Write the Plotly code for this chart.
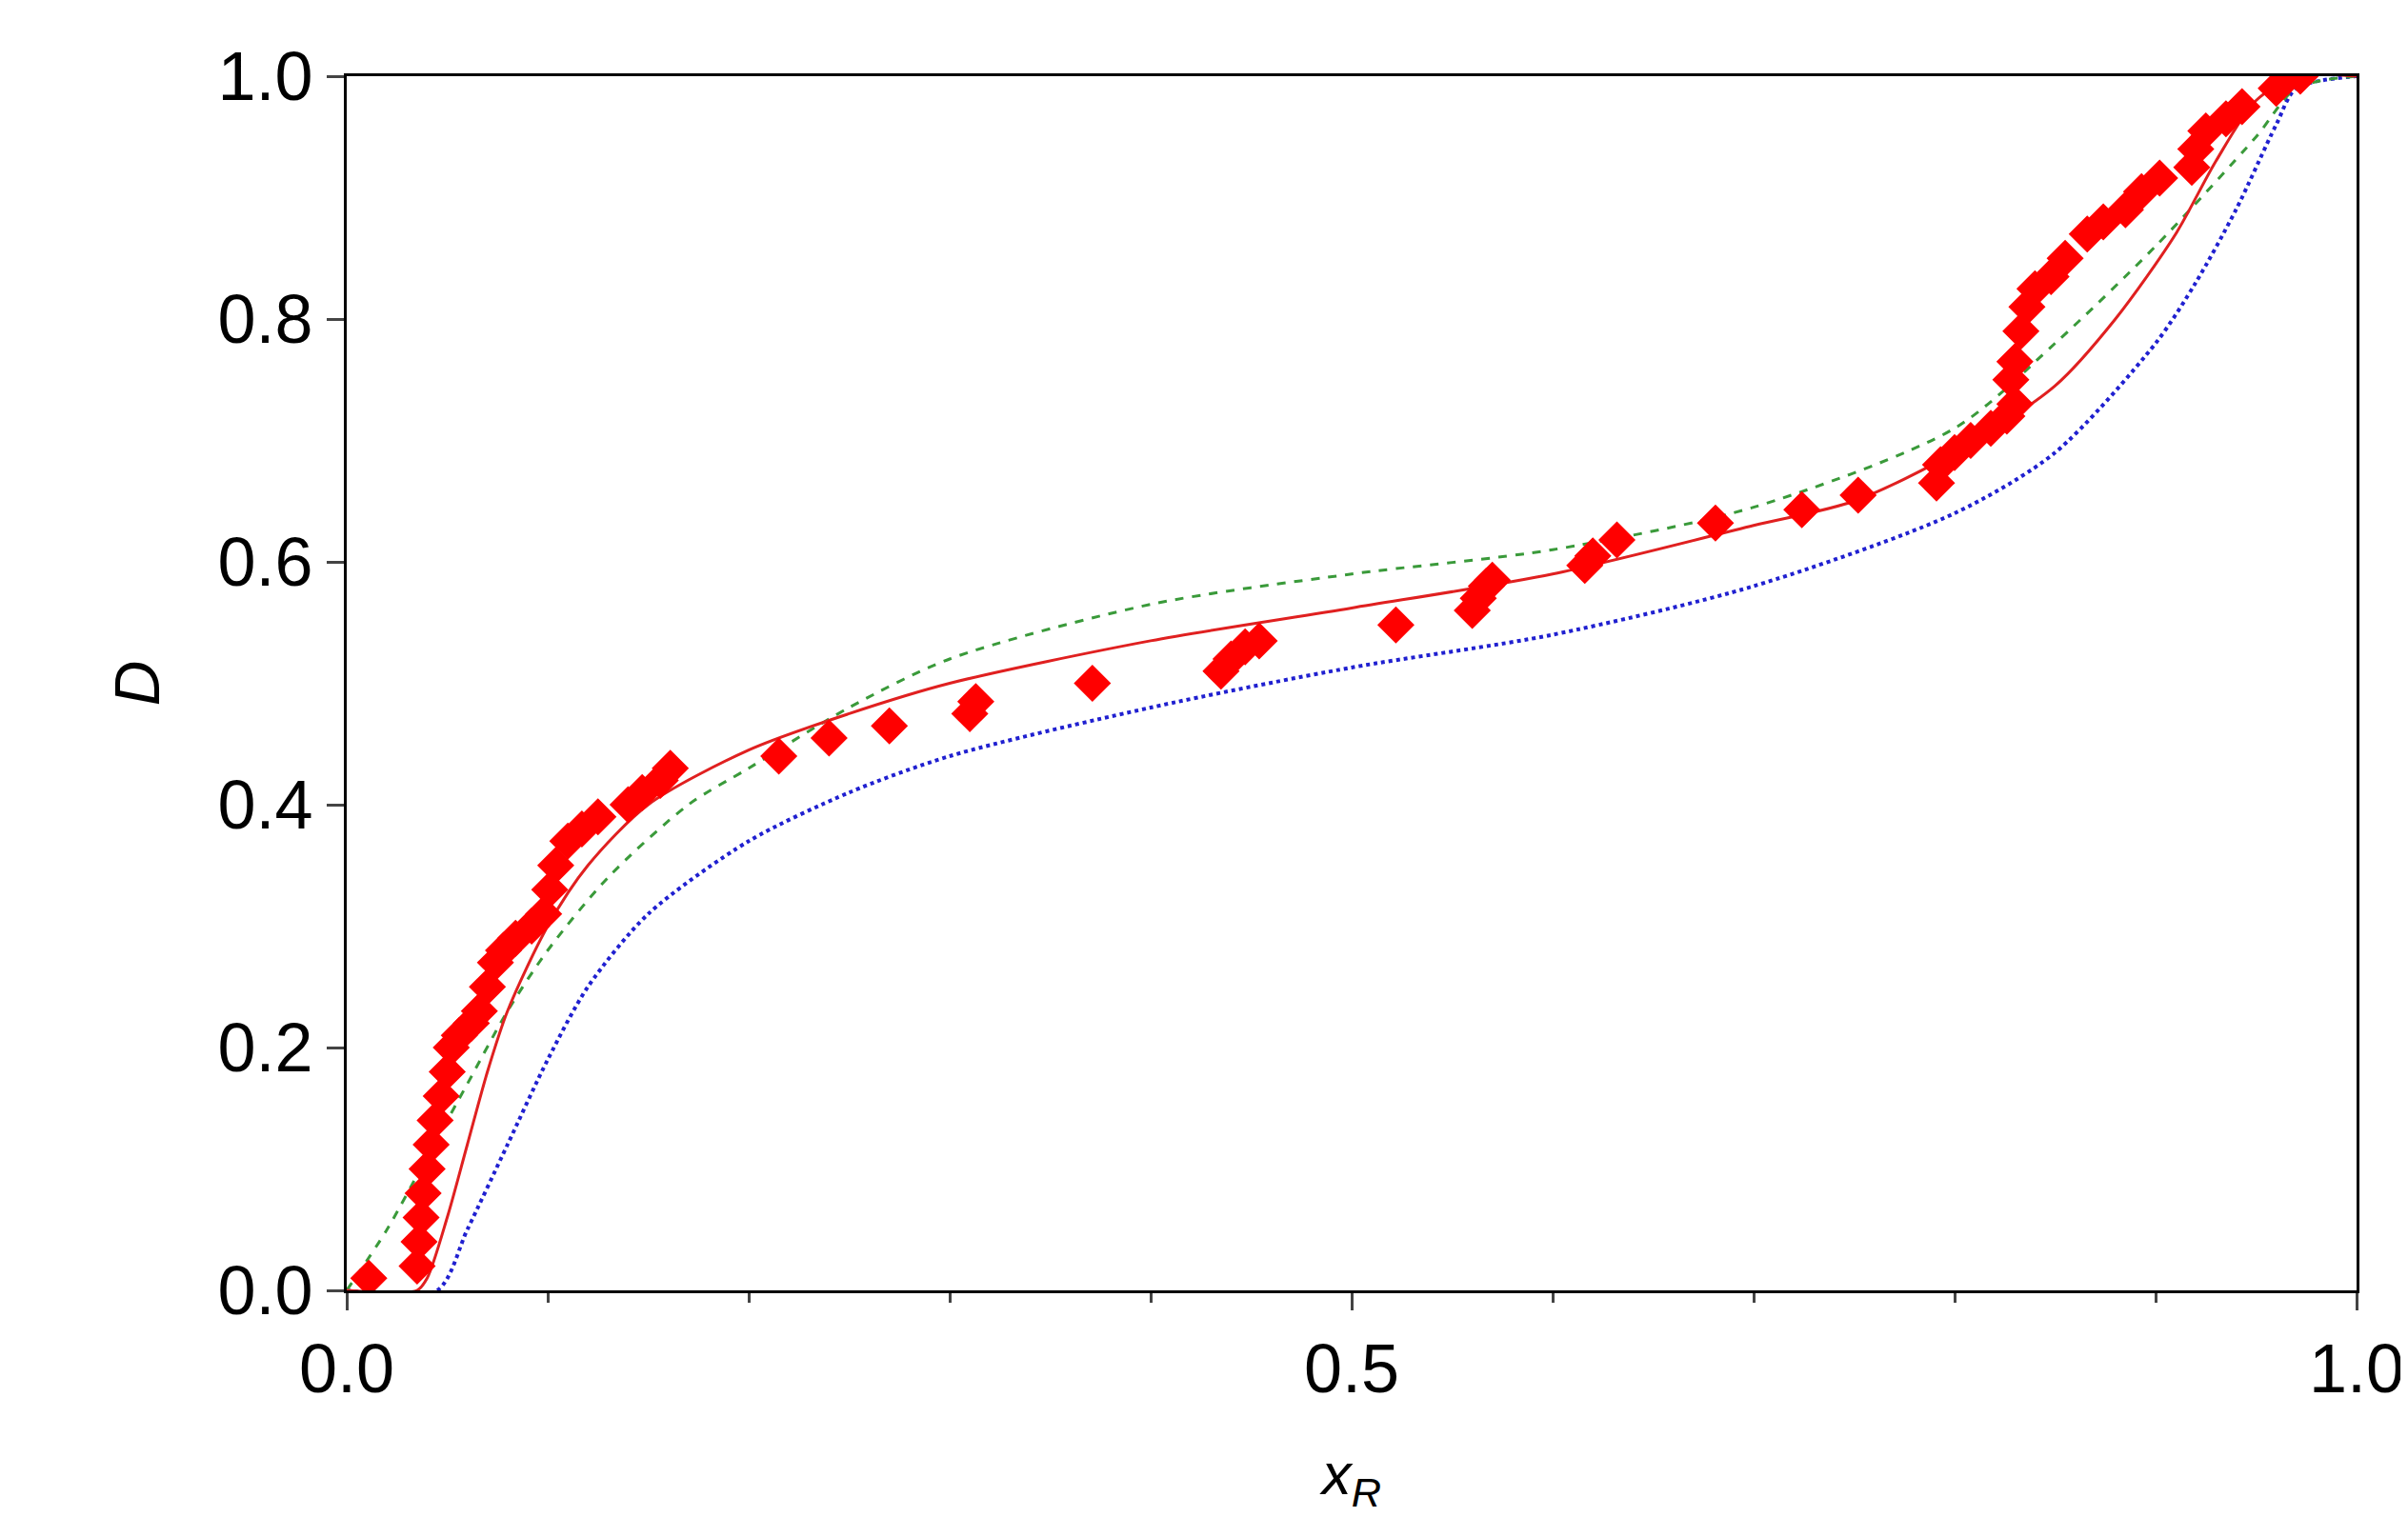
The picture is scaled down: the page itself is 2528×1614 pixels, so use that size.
import plotly.graph_objects as go

exp_x = [0.011,0.035,0.036,0.037,0.038,0.040,0.042,0.044,0.047,0.050,0.052,0.056,0.062,0.066,0.070,0.074,0.078,0.084,0.092,0.098,0.101,0.104,0.110,0.117,0.125,0.140,0.147,0.156,0.161,
         0.215,0.240,0.270,0.310,0.313,0.371,0.435,0.440,0.447,0.454,0.522,0.560,0.563,0.567,0.570,0.616,0.620,0.632,0.681,0.724,0.752,
         0.791,0.793,0.800,0.808,0.818,0.826,0.830,0.828,0.830,0.833,0.836,0.840,0.848,0.855,0.866,0.874,0.885,0.893,0.902,0.918,0.920,0.925,0.935,0.943,0.960,0.966,0.972]
exp_y = [0.010,0.020,0.040,0.060,0.080,0.100,0.120,0.140,0.160,0.180,0.200,0.210,0.220,0.230,0.250,0.270,0.280,0.290,0.300,0.310,0.330,0.350,0.370,0.380,0.390,0.400,0.410,0.420,0.430,
         0.440,0.455,0.465,0.475,0.485,0.500,0.510,0.520,0.530,0.535,0.548,0.560,0.570,0.580,0.585,0.597,0.605,0.618,0.632,0.643,0.655,
         0.665,0.680,0.690,0.700,0.710,0.720,0.730,0.750,0.765,0.790,0.810,0.825,0.835,0.850,0.870,0.880,0.890,0.905,0.916,0.925,0.940,0.955,0.965,0.975,0.990,1.000,1.000]

red_x = [0.0,0.035,0.04,0.05,0.06,0.07,0.08,0.10,0.12,0.15,0.20,0.25,0.30,0.40,0.50,0.60,0.70,0.75,0.80,0.85,0.88,0.91,0.93,0.95,0.97,1.0]
red_y = [0.0,0.0,0.01,0.06,0.12,0.18,0.23,0.30,0.35,0.40,0.445,0.475,0.50,0.535,0.562,0.59,0.63,0.65,0.69,0.745,0.80,0.87,0.93,0.98,1.0,1.0]

green_x = [0.0,0.02,0.04,0.06,0.08,0.10,0.13,0.17,0.20,0.25,0.30,0.40,0.50,0.60,0.70,0.80,0.85,0.90,0.95,0.97,1.0]
green_y = [0.0,0.05,0.11,0.17,0.23,0.28,0.34,0.40,0.43,0.48,0.52,0.565,0.59,0.61,0.645,0.71,0.78,0.86,0.95,0.99,1.0]

blue_x = [0.0,0.045,0.06,0.08,0.10,0.12,0.15,0.20,0.25,0.30,0.40,0.50,0.60,0.70,0.80,0.85,0.90,0.92,0.94,0.96,0.97,1.0]
blue_y = [0.0,0.0,0.05,0.12,0.19,0.25,0.31,0.37,0.41,0.44,0.48,0.513,0.54,0.58,0.64,0.69,0.78,0.83,0.89,0.96,0.99,1.0]

fig = go.Figure()
fig.add_trace(go.Scatter(x=blue_x, y=blue_y, mode="lines", line=dict(color="#2020d0", width=4, dash="dot", shape="spline", smoothing=0.8)))
fig.add_trace(go.Scatter(x=green_x, y=green_y, mode="lines", line=dict(color="#3a9a3a", width=3, dash="dash", shape="spline", smoothing=0.8)))
fig.add_trace(go.Scatter(x=red_x, y=red_y, mode="lines", line=dict(color="#e02020", width=3, shape="spline", smoothing=0.8)))
fig.add_trace(go.Scatter(x=exp_x, y=exp_y, mode="markers", marker=dict(symbol="diamond", size=30, color="#ff0000")))

axfont = dict(family="Liberation Sans, Arial", size=72, color="black")
fig.update_layout(
    width=2528, height=1614, showlegend=False,
    plot_bgcolor="white", paper_bgcolor="white",
    margin=dict(l=356, r=57, t=72, b=267),
    xaxis=dict(range=[0, 1], tickvals=[0, 0.5, 1.0], ticktext=["0.0", "0.5", "1.0"],
               ticks="outside", ticklen=18, tickwidth=3, tickfont=axfont,
               minor=dict(tickvals=[0.1,0.2,0.3,0.4,0.6,0.7,0.8,0.9], ticks="outside", ticklen=10, tickwidth=3),
               showline=True, linecolor="black", linewidth=3, mirror=True, showgrid=False, zeroline=False,
               title=dict(text="<i>x<sub>R</sub></i>", font=dict(family="Liberation Sans, Arial", size=62, color="black"), standoff=50)),
    yaxis=dict(range=[0, 1], tickvals=[0, 0.2, 0.4, 0.6, 0.8, 1.0], tickformat=".1f",
               ticks="outside", ticklen=18, tickwidth=3, tickfont=axfont,
               showline=True, linecolor="black", linewidth=3, mirror=True, showgrid=False, zeroline=False,
               title=dict(text="<i>D</i>", font=dict(family="Liberation Sans, Arial", size=66, color="black"), standoff=40)),
)
fig.write_html("out.html")
